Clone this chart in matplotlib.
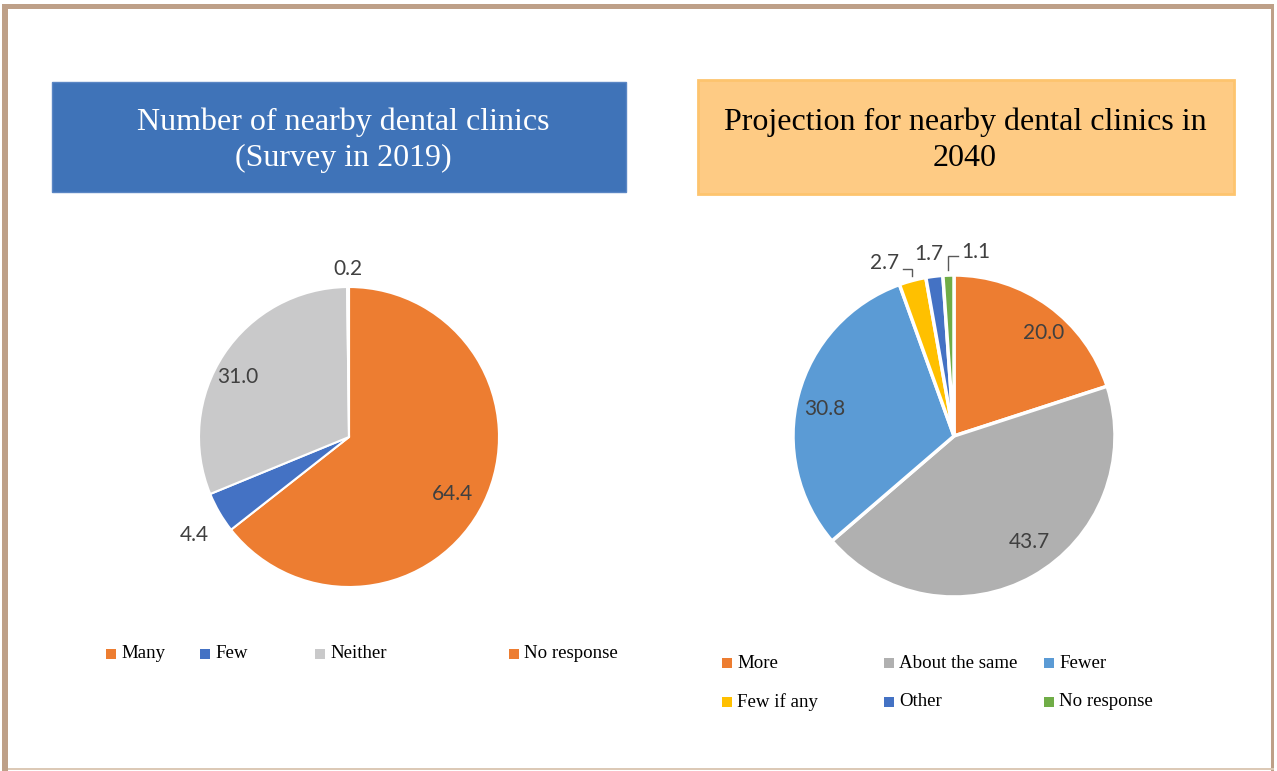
import matplotlib
matplotlib.use("Agg")
import matplotlib.pyplot as plt
from matplotlib.patches import Rectangle
import numpy as np

# Survey 2019: number of nearby dental clinics (%)
cats_2019 = ['Many', 'Few', 'Neither', 'No response']
vals_2019 = [64.4, 4.4, 31.0, 0.2]
cols_2019 = ['#ED7D31', '#4472C4', '#C9C9CA', '#ED7D31']

# Projection for 2040 (%)
cats_2040 = ['More', 'About the same', 'Fewer', 'Few if any', 'Other', 'No response']
vals_2040 = [20.0, 43.7, 30.8, 2.7, 1.7, 1.1]
cols_2040 = ['#ED7D31', '#B0B0B0', '#5B9BD5', '#FFC000', '#4472C4', '#70AD47']

W, H = 1277, 771
fig = plt.figure(figsize=(W / 100, H / 100), dpi=100)
fig.patch.set_facecolor('white')

SERIF = 'Liberation Serif'
SANS = 'Lato'
LBL_COLOR = '#404040'
LBL_SIZE = 15


def px_rect(x0, y0, x1, y1):
    # pixel box (top-left origin) -> figure fraction rect
    return [x0 / W, 1 - y1 / H, (x1 - x0) / W, (y1 - y0) / H]


# outer frame
border = '#BEA088'
for (x0, y0, x1, y1), c in [((2, 4, 1274, 9), border), ((2, 4, 8, 771), border),
                            ((1271, 4, 1274, 771), border), ((8, 768, 1274, 770), '#DCC9B6')]:
    r = px_rect(x0, y0, x1, y1)
    fig.patches.append(Rectangle((r[0], r[1]), r[2], r[3], transform=fig.transFigure,
                                 facecolor=c, edgecolor='none', zorder=0))

# title boxes
r = px_rect(52, 82, 626, 192)
fig.patches.append(Rectangle((r[0], r[1]), r[2], r[3], transform=fig.transFigure,
                             facecolor='#3F73B8', edgecolor='#5A86C4', linewidth=1))
fig.text(343 / W, 1 - 140 / H, 'Number of nearby dental clinics\n(Survey in 2019)',
         ha='center', va='center', color='white', fontsize=23, family=SERIF, linespacing=1.3)

r = px_rect(698, 80, 1234, 194)
fig.patches.append(Rectangle((r[0], r[1]), r[2], r[3], transform=fig.transFigure,
                             facecolor='#FECB84', edgecolor='#FDC46E', linewidth=2))
fig.text(965 / W, 1 - 140 / H, 'Projection for nearby dental clinics in\n2040',
         ha='center', va='center', color='black', fontsize=23, family=SERIF, linespacing=1.3)


def pie_axes(cx, cy, half=220):
    return fig.add_axes(px_rect(cx - half, cy - half, cx + half, cy + half))


def mid_angles(vals):
    tot = sum(vals)
    cum = np.cumsum([0] + list(vals)) / tot
    return [90 - 360 * (a + b) / 2 for a, b in zip(cum[:-1], cum[1:])]


# ---- left pie ----
R1 = 150
ax1 = pie_axes(349, 437)
ax1.pie(vals_2019, colors=cols_2019, startangle=90, counterclock=False, radius=1,
        wedgeprops=dict(edgecolor='white', linewidth=1.5), frame=True)
ax1.set_xlim(-220 / R1, 220 / R1)
ax1.set_ylim(-220 / R1, 220 / R1)
ax1.axis('off')
# (radius, angle shift) for each label
lpos_2019 = [(0.79, -3), (1.22, 2), (0.84, 5), (1.12, 0)]
for v, a, (rd, da) in zip(vals_2019, mid_angles(vals_2019), lpos_2019):
    t = np.deg2rad(a + da)
    ax1.text(rd * np.cos(t), rd * np.sin(t), f'{v:.1f}', ha='center', va='center',
             fontsize=LBL_SIZE, family=SANS, color=LBL_COLOR)

# ---- right pie ----
R2 = 161
ax2 = pie_axes(954, 436)
ax2.pie(vals_2040, colors=cols_2040, startangle=90, counterclock=False, radius=1,
        wedgeprops=dict(edgecolor='white', linewidth=2.5), frame=True)
ax2.set_xlim(-220 / R2, 220 / R2)
ax2.set_ylim(-220 / R2, 220 / R2)
ax2.axis('off')
lpos_2040 = [(0.85, -5), (0.81, 6), (0.82, 3), (1.17, 7), (1.14, 1), (1.14, -6)]
# leader lines: side of the label, label height, height of the horizontal stroke
leader = {3: ('left', 1.075, 1.04), 5: ('right', 1.14, 1.115)}
for i, (v, a, (rd, da)) in enumerate(zip(vals_2040, mid_angles(vals_2040), lpos_2040)):
    if i in leader:
        side, ly, hy = leader[i]
        ta = np.deg2rad(a)
        px, py = np.cos(ta), np.sin(ta) * 1.03
        sgn = -1 if side == 'left' else 1
        ax2.plot([px + sgn * 0.06, px, px], [hy, hy, py], color='#595959', lw=1,
                 solid_joinstyle='miter')
        ax2.text(px + sgn * 0.08, ly, f'{v:.1f}', ha='right' if side == 'left' else 'left',
                 va='center', fontsize=LBL_SIZE, family=SANS, color=LBL_COLOR)
    else:
        t = np.deg2rad(a + da)
        ax2.text(rd * np.cos(t), rd * np.sin(t), f'{v:.1f}', ha='center', va='center',
                 fontsize=LBL_SIZE, family=SANS, color=LBL_COLOR)


# ---- legends ----
def legend_item(x, y, color, label):
    s = 10
    r = px_rect(x - s / 2, y - s / 2, x + s / 2, y + s / 2)
    fig.patches.append(Rectangle((r[0], r[1]), r[2], r[3], transform=fig.transFigure,
                                 facecolor=color, edgecolor='none'))
    fig.text((x + 10) / W, 1 - y / H, label, ha='left', va='center', fontsize=13.6,
             family=SERIF, color='black')


leg_x_2019 = [111, 205, 320, 514]
for x, c, lab in zip(leg_x_2019, cols_2019, cats_2019):
    legend_item(x, 654, c, lab)

leg_xy_2040 = [(727, 663), (889, 663), (1049, 663), (727, 702), (889, 702), (1049, 702)]
for (x, y), c, lab in zip(leg_xy_2040, cols_2040, cats_2040):
    legend_item(x, y, c, lab)

fig.savefig('out.png', dpi=100)
